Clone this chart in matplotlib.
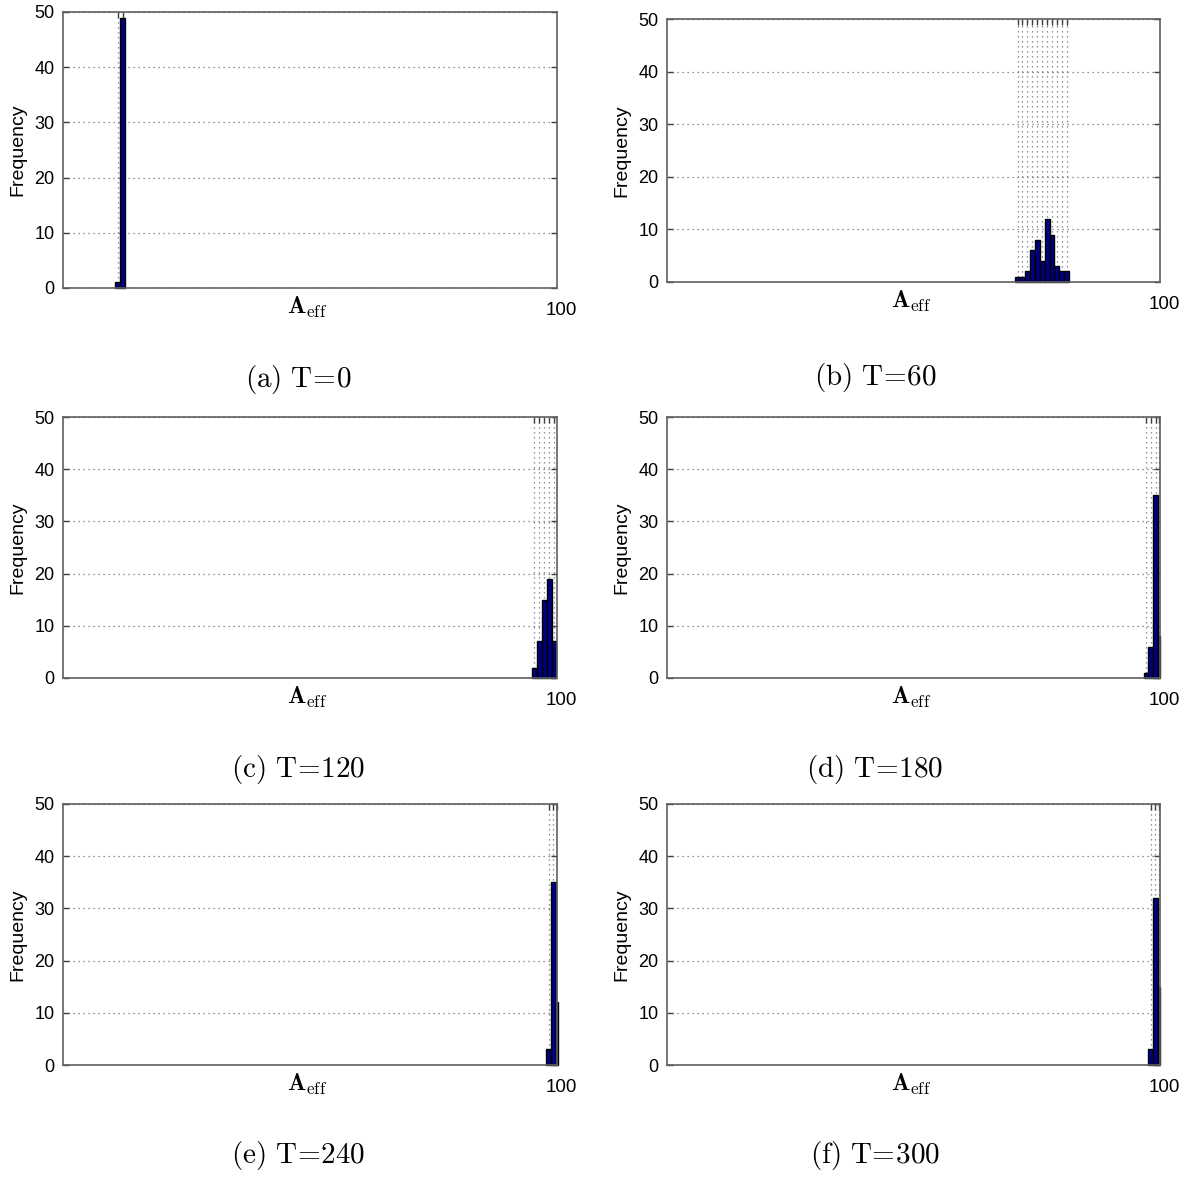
import numpy as np
import matplotlib.pyplot as plt

plt.rcParams['font.family'] = ['Liberation Sans', 'DejaVu Sans']
plt.rcParams['mathtext.fontset'] = 'cm'

# histogram bin edges and counts
edges_a = [10.5, 11.6, 12.5]
counts_a = [1, 49]
edges_b = [70.6, 71.6, 72.6, 73.6, 74.6, 75.6, 76.6, 77.6, 78.6, 79.6, 80.6, 81.6]
counts_b = [1, 1, 2, 6, 8, 4, 12, 9, 3, 2, 2]
edges_c = [94.9, 95.9, 96.9, 97.9, 98.9, 99.8]
counts_c = [2, 7, 15, 19, 7]
edges_d = [96.7, 97.6, 98.6, 99.6, 100.0]
counts_d = [1, 6, 35, 8]
edges_e = [97.9, 98.9, 99.8, 100.4]
counts_e = [3, 35, 12]
edges_f = [97.6, 98.6, 99.5, 100.1]
counts_f = [3, 32, 15]

captions = ['(a)', '(b)', '(c)', '(d)', '(e)', '(f)']
times = ['0', '60', '120', '180', '240', '300']
yticks = [0, 10, 20, 30, 40, 50]

W, H = 1196, 1177
fig = plt.figure(figsize=(W / 100, H / 100), dpi=100)

# axes boxes in pixels: left, top, right, bottom
boxes = [(63, 12, 557, 288), (667, 19, 1160, 282),
         (63, 417, 557, 678), (667, 417, 1160, 678),
         (63, 804, 557, 1065), (667, 804, 1160, 1065)]
cap_pos = [(298, 380), (875, 377), (298, 770), (875, 770), (298, 1155), (875, 1155)]

data = [(edges_a, counts_a), (edges_b, counts_b), (edges_c, counts_c),
        (edges_d, counts_d), (edges_e, counts_e), (edges_f, counts_f)]

for i, (ed, cnt) in enumerate(data):
    l, t, r, b = boxes[i]
    ed = np.array(ed)
    centers = (ed[:-1] + ed[1:]) / 2
    ax = fig.add_axes([l / W, 1 - b / H, (r - l) / W, (b - t) / H])
    ax.bar(ed[:-1], cnt, width=np.diff(ed), align='edge', color='#00007F',
           edgecolor='black', linewidth=1.0, zorder=3, clip_on=False)
    ax.set_xlim(0, 100)
    ax.set_ylim(0, 50)
    ax.set_yticks(yticks)
    ax.set_xticks(centers)
    ax.set_xticklabels([''] * len(centers))
    ax.grid(True, color='#707070', linestyle=(0, (1, 3)), linewidth=0.9, zorder=0)
    ax.tick_params(direction='in', top=True, right=True, length=4, width=1,
                   color='#404040', labelsize=13, pad=6)
    for s in ax.spines.values():
        s.set_color('#606060')
        s.set_linewidth(1.2)
        s.set_zorder(4)
    ax.set_ylabel('Frequency', fontsize=14, labelpad=6)
    ax.annotate('100', xy=(1, 0), xycoords='axes fraction', xytext=(3, -16),
                textcoords='offset points', ha='center', va='center', fontsize=13.5)
    ax.annotate(r'$\mathbf{A}_{\mathrm{eff}}$', xy=(0.495, 0), xycoords='axes fraction',
                xytext=(0, -14), textcoords='offset points', ha='center', va='center',
                fontsize=17.5)
    x, y = cap_pos[i]
    label = r'$\mathrm{' + captions[i] + r'\ T}\!=\!\mathrm{' + times[i] + '}$'
    fig.text(x / W, 1 - y / H, label, ha='center', va='center', fontsize=21)

fig.savefig('out.png', dpi=100)
